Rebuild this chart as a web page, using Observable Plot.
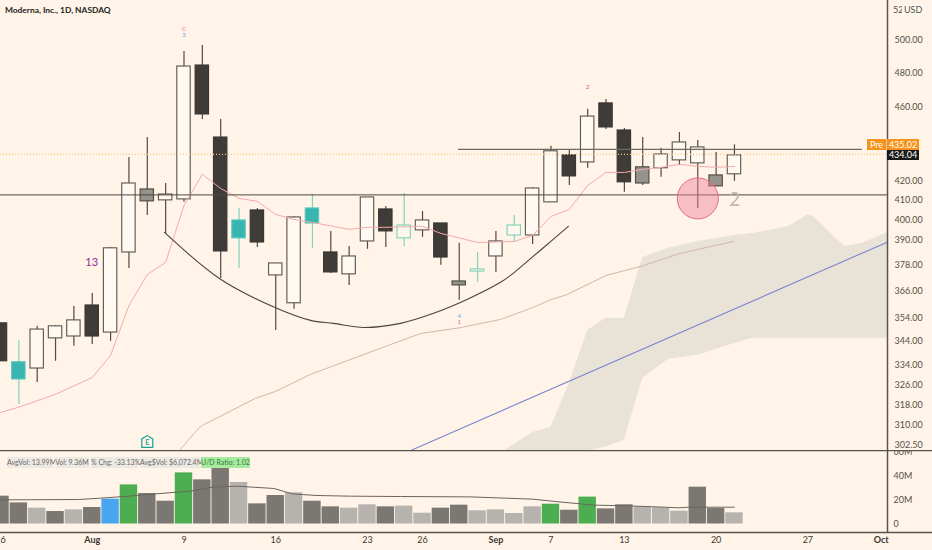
<!DOCTYPE html>
<html>
<head>
<meta charset="utf-8">
<script src="https://cdn.jsdelivr.net/npm/d3@7"></script>
<script src="https://cdn.jsdelivr.net/npm/@observablehq/plot@0.6"></script>
<style>
  html, body { margin: 0; padding: 0; background: #fff4e7; }
  #wrap { position: relative; width: 932px; height: 550px; overflow: hidden; background: #fff4e7; font-family: Lato, sans-serif; }
  #wrap svg { position: absolute; left: 0; background: transparent; overflow: hidden; }
  .t { position: absolute; white-space: nowrap; }
  .pill { position: absolute; top: 457px; height: 11px; line-height: 11px; font-size: 7px; color: #6a6a6a; background: #ece8e3; text-align: center; white-space: nowrap; }
  .tag { position: absolute; font-size: 9px; text-align: center; line-height: 11px; height: 11px; }
</style>
</head>
<body>
<div id="wrap"></div>
<script>
// ---- candles (Moderna daily, index 0 = 26 Jul) ----
const candleKind = ["b","t","w","w","w","b","w","w","g","w","w","b","b","t","b","w","w","t","b","w","w","b","h","w","b","g","h","w","h","w","w","b","w","b","b","g","w","w","w","g","w"];
const high = [351.8,344.4,350.5,350.9,359.3,365.1,386.6,432.4,443.2,418.6,493.2,496.9,453.3,405.8,405.8,379.0,401.8,412.9,394.4,387.1,411.4,406.8,413.4,404.3,398.3,388.6,384.2,394.4,402.3,416.5,438.4,436.7,459.0,464.7,448.2,443.2,437.3,446.0,441.6,435.1,439.2];
const bodyTop = [351.8,335.2,349.1,350.5,353.1,359.7,386.2,418.6,415.5,412.9,484.1,484.7,443.2,399.8,404.8,379.0,401.3,405.8,384.2,382.3,411.4,405.3,397.3,399.8,398.3,370.6,376.2,389.5,397.3,416.0,435.7,433.5,454.9,462.4,447.1,427.1,434.0,440.5,437.8,422.8,433.5];
const bodyBottom = [335.6,328.1,332.6,345.3,346.1,346.1,347.8,384.2,409.4,409.9,410.4,456.1,384.7,391.0,389.0,373.4,360.7,398.3,374.8,373.9,389.5,394.4,391.0,394.9,381.8,368.8,375.2,382.3,392.4,392.4,408.9,422.3,429.7,448.8,419.2,418.6,426.6,430.8,429.2,417.1,423.4];
const low = [335.6,318.1,326.9,335.6,341.9,342.7,344.0,376.6,402.3,393.4,408.9,453.3,372.0,376.6,386.6,348.7,358.0,386.2,374.3,368.8,385.7,386.6,387.1,391.5,378.1,362.0,370.2,374.8,389.0,388.0,408.9,417.6,426.6,447.7,414.0,417.6,421.8,428.1,405.8,417.1,419.7];

// ---- volume (millions) ----
const volume = [23.2,17.6,13.2,10.4,11.8,13.75,20.7,32.6,25.4,19.0,42.6,36.8,46.5,34.6,16.8,23.75,26,19,14.3,13.2,16,14.3,14.9,9.0,13.2,15.7,11,11.8,8.75,14.3,16.5,11.5,22.4,12.6,16,14.3,13.5,10.7,30.7,12.9,9.3];
const volumeKind = ["d","d","l","d","l","d","u","g","d","d","g","d","d","l","d","d","l","d","d","l","l","d","l","l","d","d","l","l","l","l","g","d","g","d","d","l","l","l","d","d","l"];
const volAvgIndex = [0,4.2,5.45,7.45,8.45,10.35,11.6,12.9,14.9,15.9,17.25,19.07,21.8,25.6,29,30.6,32.4,34.3,37,37.5,40];
const volAvgValue = [20.1,20.4,21.5,23.75,25.1,27.4,30.7,31.5,29.6,25.1,23.75,23.2,22.9,22.6,20.7,18.2,15.7,15.1,13.5,14,14];

// ---- indicators ----
const emaIndex = [0,1,3,5,6,7,8,9,10,11,12,13,14,15,16,17,19,20,21,23,24,26,28,29,30,31,32,33,34,35,36,37,38,39,40];
const emaPrice = [314.9,317.0,322.1,328.9,338.1,359.7,373.8,379.5,407.3,423.4,416.0,410.9,409.4,402.8,400.3,398.8,395.4,396.4,396.4,396.9,393.4,389.0,389.5,392.4,401.8,405.3,417.6,424.4,424.4,426.0,427.1,428.7,427.6,427.1,427.6];
const slowIndex = [9.7,10.75,11,13.9,15,16.9,20.55,22.9,25.05,27.25,29.05,29.9,30.9,33,34.9,37.05,39.95];
const slowPrice = [300.0,308.4,309.9,320.5,323.3,330.2,340.6,347.4,349.9,353.5,358.9,362.0,364.7,373.4,377.6,383.8,389.5];
const cupIndex = [8.94,11.93,14.93,16.9,18.15,19.8,21.8,23.6,25.45,27.25,27.8,29.6,30.95];
const cupPrice = [393.9,372.0,358.9,353.1,351.8,350.0,351.8,356.2,362.5,370.2,373.4,386.6,396.9];
const trendIndex = [22.23,48.34];
const trendPrice = [300.0,389.2];
const cloudIndex = [27.4,29,30,31,32,33,34,35,36.4,38,40,41,42,43,44,44.3,46,47,48.34];
const cloudTop = [300,307.2,309.1,326.5,348.7,354,354,381.8,386.2,389.5,392.4,393.4,394.9,396.9,402.8,401.8,387.1,388.6,393.9];
const cloudBottom = [300,300,300,300,300,301.7,304.2,328.5,336.4,338.1,343.1,345.3,345.3,345.3,345.3,345.3,345.3,345.3,345.3];

const supportPrice = 412.7, resistPrice = 436.7, prePrice = 435.02, lastPrice = 434.04;

// ---- axes ----
const priceTicks = [500,480,460,420,410,400,390,378,366,354,344,334,326,318,310,302.5];
const volTicks = [0,20,40,60];
const dayTickIndex = [0,10,15,20,23,30,34,39,44];
const dayTickLabel = ["26","9","16","23","26","7","13","20","27"];
const monthTickIndex = [5,27,48];
const monthTickLabel = ["Aug","Sep","Oct"];

// ---- annotations ----
const noteIndex = [4.97,10,10,32,25,25,40];
const noteText = ["13","C","3","2","4","1","2"];
const notePrice = [379.5,506.9,503.1,472.2,354.9,352.2,409.9];
const noteColor = ["#8f2aa0","#e0707f","#5aa9ee","#e0606f","#5aa9ee","#e0606f","#bdb8b2"];
const noteSize = [11,6,6,6.5,6,6,19];

const circleIndex = 38, circlePrice = 410.9, earningsIndex = 8, earningsPrice = 303.6;

const font = 'Lato, sans-serif';
const xDomain = [0, 48.34];
const W = 932, axisRight = 887, ink = "#5a544d";

const candles = high.map((h, i) => ({i, h, t: bodyTop[i], b: bodyBottom[i], l: low[i], k: candleKind[i]}));
const zipXY = (xs, ys) => xs.map((x, j) => ({x, y: ys[j]}));
const bodyStyle = {
  b: {fill: "#3f3b38", stroke: "#3a3633"},
  w: {fill: "#fff9f1", stroke: "#5f5a54"},
  g: {fill: "#96928c", stroke: "#4f4a45"},
  t: {fill: "#38b5ae", stroke: "#5cc6bb"},
  h: {fill: "#fff7ec", stroke: "#80d3bd"}
};
const wickColor = k => (k === "t" || k === "h") ? "#80d3bd" : "#4f4a45";

const candleMarks = Object.keys(bodyStyle).flatMap(k => {
  const rows = candles.filter(d => d.k === k);
  return [
    Plot.ruleX(rows, {x: "i", y1: "l", y2: "h", stroke: wickColor(k), strokeWidth: 1.2}),
    Plot.rect(rows, {x1: d => d.i - 0.365, x2: d => d.i + 0.365, y1: "b", y2: "t", fill: bodyStyle[k].fill, stroke: bodyStyle[k].stroke, strokeWidth: 1.15, inset: 0})
  ];
});

const houseSymbol = {
  draw(ctx, size) {
    const s = Math.sqrt(size) / 2;
    ctx.moveTo(-s, -s * 0.55); ctx.lineTo(0, -s * 1.15); ctx.lineTo(s, -s * 0.55);
    ctx.lineTo(s, s); ctx.lineTo(-s, s); ctx.closePath();
  }
};

const price = Plot.plot({
  width: W, height: 451,
  marginLeft: 0, marginRight: W - axisRight, marginTop: 0, marginBottom: 0,
  style: {background: "transparent", fontFamily: font},
  x: {type: "linear", domain: xDomain, range: [0, axisRight], axis: null},
  y: {type: "log", domain: [300.0, 525.5], range: [451, 0], axis: null},
  marks: [
    Plot.areaY(cloudIndex.map((x, j) => ({x, a: cloudBottom[j], c: cloudTop[j]})), {x: "x", y1: "a", y2: "c", fill: "#e9e2d6", clip: true}),
    Plot.line(zipXY(slowIndex, slowPrice), {x: "x", y: "y", stroke: "#d3b7a7", strokeWidth: 1, clip: true}),
    Plot.line(zipXY(trendIndex, trendPrice), {x: "x", y: "y", stroke: "#7c86cf", strokeWidth: 1.1, clip: true}),
    ...candleMarks,
    Plot.line(zipXY(emaIndex, emaPrice), {x: "x", y: "y", stroke: "#f4a9ac", strokeWidth: 1, clip: true}),
    Plot.line(zipXY(cupIndex, cupPrice), {x: "x", y: "y", stroke: "#4a4540", strokeWidth: 1.1, curve: "catmull-rom"}),
    Plot.ruleY([lastPrice], {x1: 0, x2: xDomain[1], stroke: "#f5c97a", strokeWidth: 1.2, strokeDasharray: "1 2"}),
    Plot.ruleY([supportPrice], {x1: 0, x2: xDomain[1], stroke: "#4a4540", strokeWidth: 1}),
    Plot.ruleY([resistPrice], {x1: 24.96, x2: 46.97, stroke: "#6f6a64", strokeWidth: 1.3}),
    Plot.dot([{x: circleIndex, y: circlePrice}], {x: "x", y: "y", r: 20.5, fill: "#ef7f95", fillOpacity: 0.45, stroke: "#e46b82", strokeWidth: 1}),
    Plot.dot([{x: earningsIndex, y: earningsPrice}], {x: "x", y: "y", symbol: houseSymbol, r: 6.2, fill: "#fff4e7", stroke: "#17a398", strokeWidth: 1.2}),
    Plot.text([{x: earningsIndex, y: earningsPrice}], {x: "x", y: "y", text: () => "E", fill: "#17a398", fontSize: 7.5, fontWeight: 600, dy: 0.5}),
    ...noteText.map((s, j) => Plot.text([{x: noteIndex[j], y: notePrice[j], s}], {x: "x", y: "y", text: "s", fill: noteColor[j], fontSize: noteSize[j]})),
    Plot.axisY({anchor: "right", ticks: priceTicks, tickSize: 0, tickPadding: 7, textAnchor: "start", fontSize: 9, fill: "#55504a", label: null, tickFormat: d => d.toFixed(2)}),
    Plot.ruleX([xDomain[1]], {stroke: ink, strokeWidth: 1.5}),
    Plot.ruleY([300.0], {x1: 0, x2: 60, stroke: ink, strokeWidth: 1.5, clip: false})
  ]
});
price.style.top = "0px";

const volBars = volume.map((v, i) => ({i, v, k: volumeKind[i]}));
const volColor = {d: "#7b7773", l: "#b6b3af", g: "#4cae50", u: "#4aa5f0"};

const vol = Plot.plot({
  width: W, height: 100,
  marginLeft: 0, marginRight: W - axisRight, marginTop: 0, marginBottom: 18,
  style: {background: "transparent", fontFamily: font},
  x: {type: "linear", domain: xDomain, range: [0, axisRight], axis: null},
  y: {type: "linear", domain: [-7.08, 61.25], range: [82, 0], axis: null},
  marks: [
    ...Object.keys(volColor).map(k => Plot.rect(volBars.filter(d => d.k === k), {x1: d => d.i - 0.475, x2: d => d.i + 0.475, y1: 0, y2: "v", fill: volColor[k]})),
    Plot.line(zipXY(volAvgIndex, volAvgValue), {x: "x", y: "y", stroke: "#6b655f", strokeWidth: 1}),
    Plot.axisY({anchor: "right", ticks: volTicks, tickSize: 0, tickPadding: 6, textAnchor: "start", fontSize: 9, fill: "#55504a", label: null, tickFormat: d => d === 0 ? "0" : d + "M"}),
    Plot.axisX({anchor: "bottom", ticks: dayTickIndex, tickSize: 0, tickPadding: 4, fontSize: 9, fill: "#3a3632", label: null, tickFormat: d => dayTickLabel[dayTickIndex.indexOf(d)]}),
    Plot.axisX({anchor: "bottom", ticks: monthTickIndex, tickSize: 0, tickPadding: 4, fontSize: 9, fontWeight: 700, fill: "#3a3632", label: null, tickFormat: d => monthTickLabel[monthTickIndex.indexOf(d)]}),
    Plot.ruleY([-7.08], {x1: 0, x2: 60, stroke: ink, strokeWidth: 1.5, clip: false}),
    Plot.ruleX([xDomain[1]], {stroke: ink, strokeWidth: 1.5}),
    Plot.ruleY([61.25], {x1: 0, x2: 60, stroke: ink, strokeWidth: 1.5, clip: false})
  ]
});
vol.style.top = "450px";

const wrap = document.getElementById("wrap");
wrap.append(price, vol);

function addEl(cls, text, css) {
  const e = document.createElement("div");
  e.className = cls; e.textContent = text; Object.assign(e.style, css); wrap.append(e); return e;
}
addEl("t", "Moderna, Inc., 1D, NASDAQ", {left: "5px", top: "5px", fontSize: "8.4px", fontWeight: "700", color: "#222"});
addEl("t", "52", {left: "893px", top: "4px", fontSize: "9px", color: "#55504a"});
addEl("t", "USD", {left: "902px", top: "4px", fontSize: "9px", color: "#55504a", background: "#fff8f0", padding: "0 2px"});

const yScale = price.scale("y");
const lastY = yScale.apply(lastPrice);
addEl("tag", "Pre", {left: "867px", top: (lastY - 15) + "px", width: "19px", background: "#f7931a", color: "#fff"});
addEl("tag", prePrice.toFixed(2), {left: "887px", top: (lastY - 15) + "px", width: "32px", background: "#f7931a", color: "#fff"});
addEl("tag", lastPrice.toFixed(2), {left: "887px", top: (lastY - 4) + "px", width: "32px", height: "10px", lineHeight: "10px", background: "#1b1917", color: "#fff"});

const pillText = ["AvgVol: 13.99M","Vol: 9.36M","% Chg: -33.13%","Avg$Vol: $6,072.4M","U/D Ratio: 1.02"];
const pillLeft = [7,55,91,140,201];
const pillWidth = [46,34,47,60,49];
pillText.forEach((s, j) => {
  const e = addEl("pill", s, {left: pillLeft[j] + "px", width: pillWidth[j] + "px"});
  if (j === 4) { e.style.background = "#a8ea9f"; e.style.color = "#2f7d32"; }
});
</script>
</body>
</html>
